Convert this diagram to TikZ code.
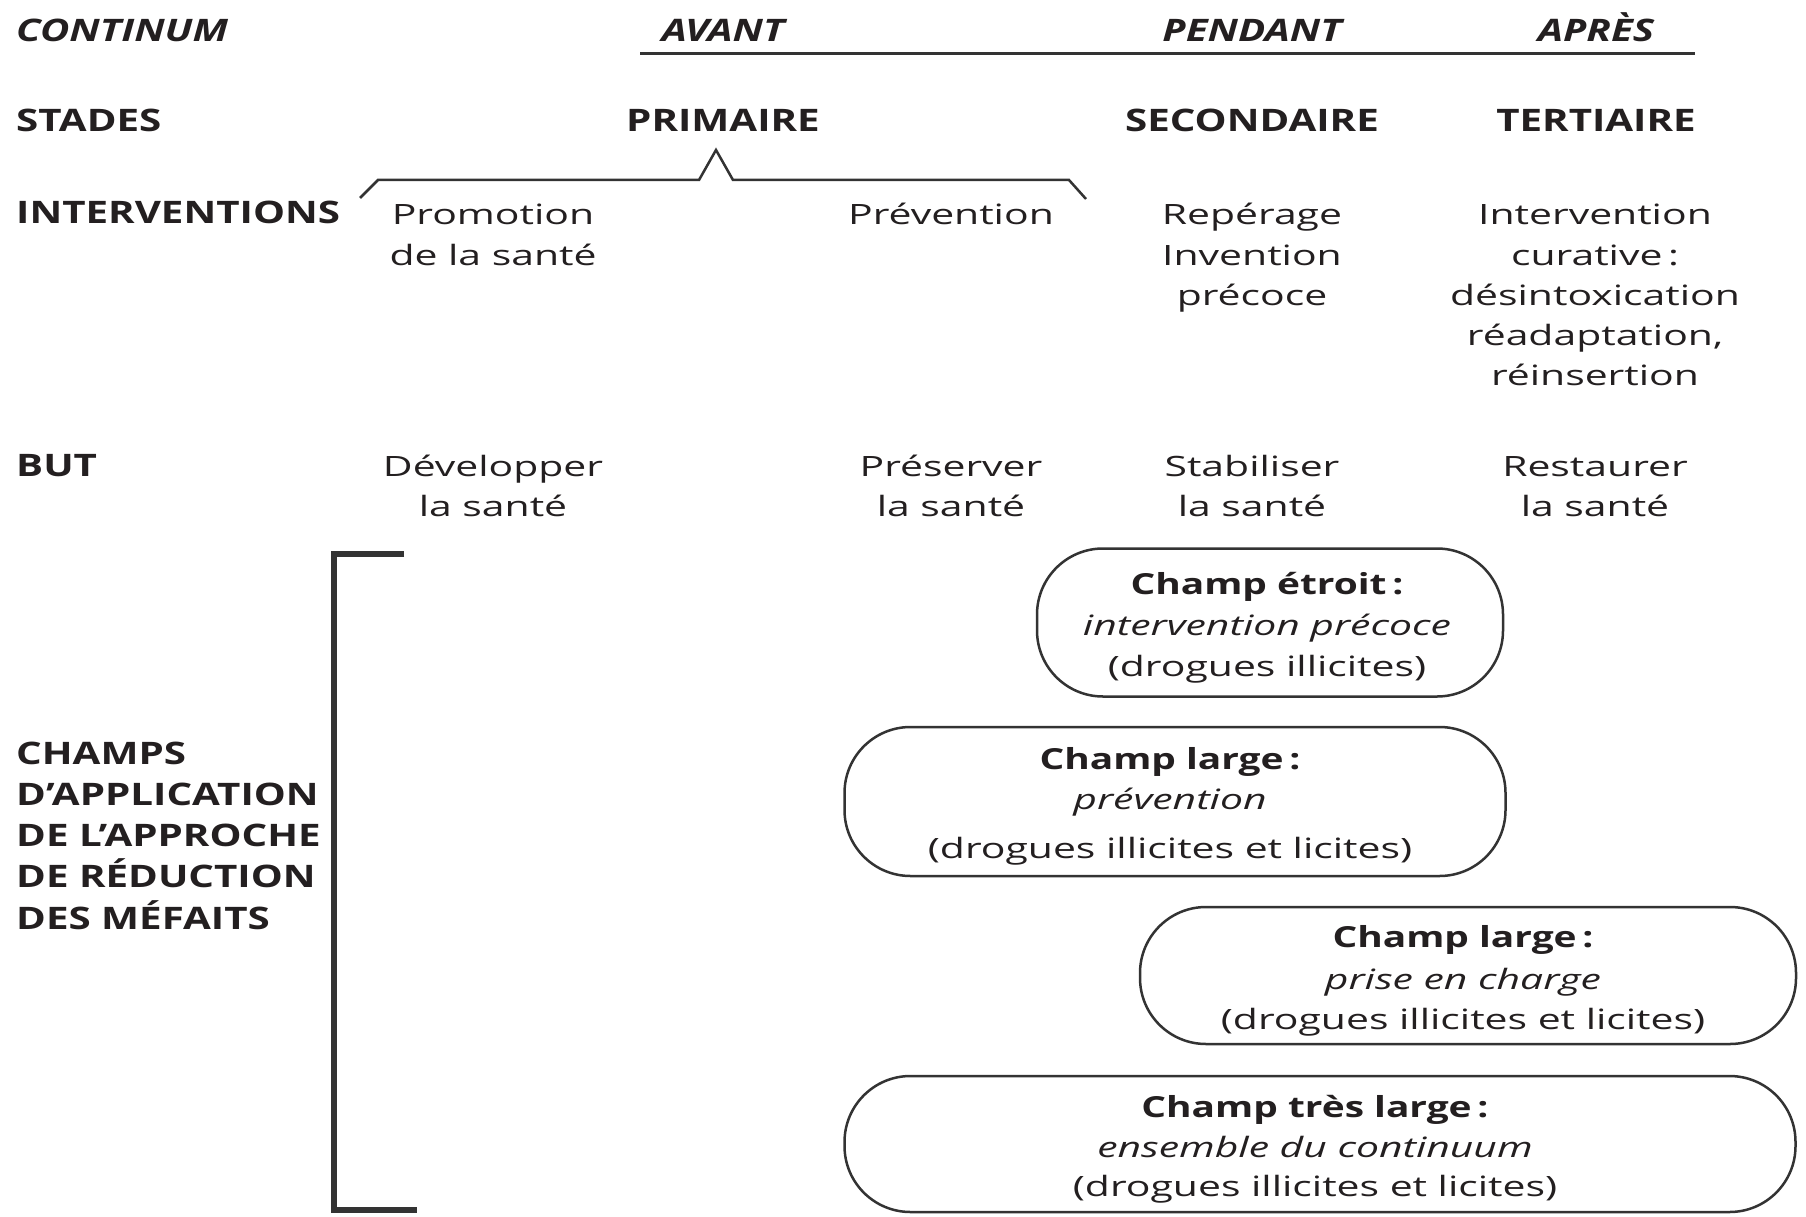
\documentclass[tikz,border=0pt]{standalone}
\usepackage{fontspec}
\newfontfamily\rfont{Open Sans}[FakeStretch=1.46]
\newfontfamily\bfont{Open Sans}[FakeStretch=1.3]
\newfontfamily\cfont{Open Sans}[FakeStretch=1.34]
\definecolor{ink}{HTML}{231F20}
\definecolor{ln}{HTML}{333333}
\begin{document}
\begin{tikzpicture}[x=1pt,y=-1pt,
  every node/.style={inner sep=0pt, text=ink},
  lab/.style={anchor=base west, font=\bfont\bfseries\fontsize{31}{31}\selectfont},
  hd/.style={anchor=base, font=\bfont\bfseries\itshape\fontsize{31}{31}\selectfont},
  hdl/.style={anchor=base west, font=\bfont\bfseries\itshape\fontsize{31}{31}\selectfont},
  st/.style={anchor=base, font=\bfont\bfseries\fontsize{31}{31}\selectfont},
  tx/.style={anchor=base, font=\rfont\fontsize{28}{28}\selectfont},
  itx/.style={anchor=base, font=\rfont\itshape\fontsize{28}{28}\selectfont},
  bx/.style={anchor=base, font=\cfont\bfseries\fontsize{29}{29}\selectfont},
  champ/.style={draw=ln, line width=2.5pt, rounded corners=66pt, rectangle},
  rule/.style={draw=ln, line width=3pt},
  brace/.style={draw=ln, line width=2.5pt, line join=miter},
  bracket/.style={draw=ln, line width=6pt, line join=miter}]
\useasboundingbox[fill=white] (0,0) rectangle (1806,1217);

% header row
\node[hdl] (cont) at (16,42) {CONTINUM};
\node[hd] (avant) at (723,42) {AVANT};
\node[hd] (pend) at (1252,42) {PENDANT};
\node[hd] (apres) at (1596,42) {APRÈS};
\coordinate (r1) at (640,54);
\coordinate (r2) at (1695,54);
\path[rule] (r1) -- (r2);

% stades
\node[lab] (stades) at (16,132) {STADES};
\node[st] (prim) at (723,132) {PRIMAIRE};
\node[st] (sec) at (1252,132) {SECONDAIRE};
\node[st] (tert) at (1596,132) {TERTIAIRE};

% brace
\coordinate (b1) at (360,198);
\coordinate (b2) at (378,180);
\coordinate (b3) at (699,180);
\coordinate (b4) at (716,150);
\coordinate (b5) at (733,180);
\coordinate (b6) at (1069,180);
\coordinate (b7) at (1086,199);
\path[brace] (b1) -- (b2) -- (b3) -- (b4) -- (b5) -- (b6) -- (b7);

% interventions
\node[lab] (interv) at (16,223) {INTERVENTIONS};
\node[tx] (pro1) at (493,225) {Promotion};
\node[tx] (pro2) at (493,265) {de la santé};
\node[tx] (prev) at (951,225) {Prévention};
\node[tx] (rep1) at (1252,225) {Repérage};
\node[tx] (rep2) at (1252,265) {Invention};
\node[tx] (rep3) at (1252,305) {précoce};
\node[tx] (cur1) at (1595,225) {Intervention};
\node[tx] (cur2) at (1595,265) {curative\kern0.2em:};
\node[tx] (cur3) at (1595,305) {désintoxication};
\node[tx] (cur4) at (1595,345) {réadaptation,};
\node[tx] (cur5) at (1595,385) {réinsertion};

% but
\node[lab] (but) at (16,476) {BUT};
\node[tx] (dev1) at (493,476) {Développer};
\node[tx] (dev2) at (493,516) {la santé};
\node[tx] (pre1) at (951,476) {Préserver};
\node[tx] (pre2) at (951,516) {la santé};
\node[tx] (sta1) at (1252,476) {Stabiliser};
\node[tx] (sta2) at (1252,516) {la santé};
\node[tx] (res1) at (1595,476) {Restaurer};
\node[tx] (res2) at (1595,516) {la santé};

% champs label
\node[lab] (ch1) at (16,764) {CHAMPS};
\node[lab] (ch2) at (16,805) {D’APPLICATION};
\node[lab] (ch3) at (16,846) {DE L’APPROCHE};
\node[lab] (ch4) at (16,887) {DE RÉDUCTION};
\node[lab] (ch5) at (16,929) {DES MÉFAITS};

% bracket
\coordinate (k1) at (404,554);
\coordinate (k2) at (334,554);
\coordinate (k3) at (334,1210);
\coordinate (k4) at (417,1210);
\path[bracket] (k1) -- (k2) -- (k3) -- (k4);

% boxes
\node[champ, minimum width=466pt, minimum height=148pt] (box1) at (1270,622.5) {};
\node[bx] (t11) at (1267,594) {Champ étroit\kern0.2em:};
\node[itx] (t12) at (1267,635) {intervention précoce};
\node[tx] (t13) at (1267,676) {(drogues illicites)};

\node[champ, minimum width=661pt, minimum height=149pt] (box2) at (1175,801.5) {};
\node[bx] (t21) at (1170,769) {Champ large\kern0.2em:};
\node[itx] (t22) at (1170,809) {prévention};
\node[tx] (t23) at (1170,858) {(drogues illicites et licites)};

\node[champ, minimum width=656pt, minimum height=137pt] (box3) at (1468,975.5) {};
\node[bx] (t31) at (1463,947) {Champ large\kern0.2em:};
\node[itx] (t32) at (1463,989) {prise en charge};
\node[tx] (t33) at (1463,1029) {(drogues illicites et licites)};

\node[champ, minimum width=951pt, minimum height=136pt] (box4) at (1320,1144) {};
\node[bx] (t41) at (1315,1117) {Champ très large\kern0.2em:};
\node[itx] (t42) at (1315,1157) {ensemble du continuum};
\node[tx] (t43) at (1315,1196) {(drogues illicites et licites)};
\end{tikzpicture}
\end{document}
